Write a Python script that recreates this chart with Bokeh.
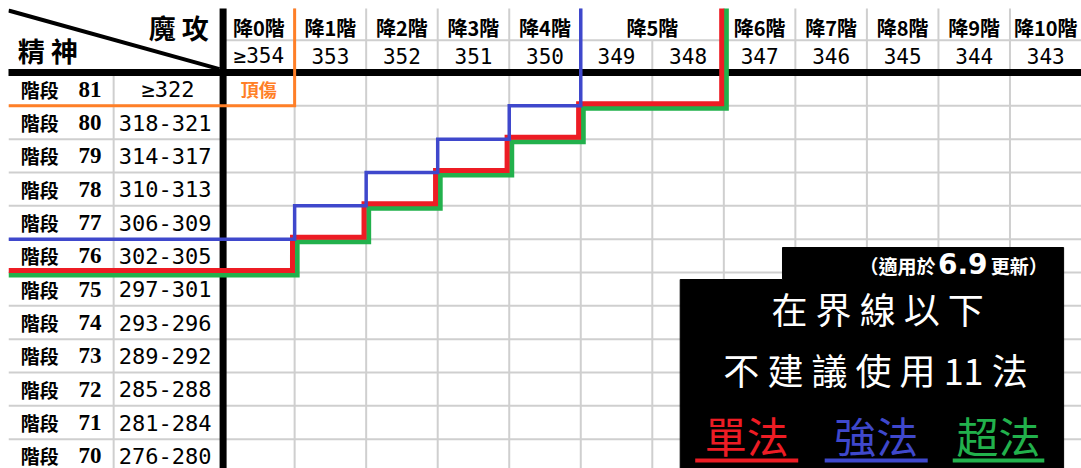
from bokeh.plotting import figure
from bokeh.models import Range1d
from bokeh.core.properties import value
from bokeh.embed import file_html
from bokeh.resources import INLINE

# ---------------- data ----------------
atk_tiers = ["降0階", "降1階", "降2階", "降3階", "降4階", "降5階",
             "降6階", "降7階", "降8階", "降9階", "降10階"]
atk_values = ["≥354", "353", "352", "351", "350", "349", "348",
              "347", "346", "345", "344", "343"]
atk_value_tier = [0, 1, 2, 3, 4, 5, 5, 6, 7, 8, 9, 10]
spirit_stages = [81, 80, 79, 78, 77, 76, 75, 74, 73, 72, 71, 70]
spirit_ranges = ["≥322", "318-321", "314-317", "310-313", "306-309", "302-305",
                 "297-301", "293-296", "289-292", "285-288", "281-284", "276-280"]
# minimum 精神 stage needed for each 魔攻 column (columns beyond the list: not reachable)
top_damage_min = [81]                       # 頂傷
single_min = [76, 77, 78, 79, 80, 81, 81]   # 單法
strong_min = [77, 78, 79, 80, 81]           # 強法
super_min = [76, 77, 78, 79, 80, 81, 81]    # 超法

ORANGE, RED, BLUE, GREEN = "#FF7F27", "#ED1C24", "#3F48CC", "#22B14C"
CJK = value("Noto Sans CJK TC")
MONO = value("DejaVu Sans Mono")

NCOL = len(atk_values)
NROW = len(spirit_stages)
X0, XSPLIT = -3.0, -1.53
TOP, HMID, BOTTOM = -1.92, -0.97, 11.88

p = figure(width=1081, height=468, x_range=Range1d(X0, NCOL), y_range=Range1d(BOTTOM, TOP),
           output_backend="svg", toolbar_location=None, x_axis_location=None,
           y_axis_location=None, min_border_left=8, min_border_top=8,
           min_border_right=0, min_border_bottom=0)
p.grid.visible = False
p.outline_line_color = None
p.background_fill_color = "white"
p.border_fill_color = "white"

GRID = "#cfcfcf"
# horizontal grid
hx0, hy0, hx1, hy1 = [], [], [], []
for r in range(1, NROW + 1):
    hx0.append(X0); hy0.append(r); hx1.append(NCOL); hy1.append(r)
hx0.append(0); hy0.append(HMID); hx1.append(NCOL); hy1.append(HMID)
p.segment(hx0, hy0, hx1, hy1, line_color=GRID, line_width=2)
# vertical grid
vx, vy0 = [], []
for i in range(1, NCOL):
    vx.append(i)
    vy0.append(HMID if atk_value_tier[i - 1] == atk_value_tier[i] else TOP - 0.2)
vx.append(XSPLIT); vy0.append(0)
p.segment(vx, vy0, vx, [BOTTOM + 1] * len(vx), line_color=GRID, line_width=2)

# thick black separators and diagonal
p.segment([X0 - 0.1], [0], [NCOL + 0.1], [0], line_color="black", line_width=7)
p.segment([0], [TOP - 0.2], [0], [BOTTOM + 1], line_color="black", line_width=7)
p.segment([X0], [-1.86], [-0.05], [-0.1], line_color="black", line_width=4)

# header corner texts
p.text([-0.62], [-1.35], text=["魔 攻"], text_font=CJK, text_font_style="bold",
       text_font_size="27px", text_align="center", text_baseline="middle", text_color="black")
p.text([-2.45], [-0.66], text=["精 神"], text_font=CJK, text_font_style="bold",
       text_font_size="27px", text_align="center", text_baseline="middle", text_color="black")

# tier headers
tx, tt = [], []
for t, name in enumerate(atk_tiers):
    cols = [i for i, v in enumerate(atk_value_tier) if v == t]
    tx.append((cols[0] + cols[-1] + 1) / 2)
    tt.append(name)
p.text(tx, [-1.34] * len(tx), text=tt, text_font=CJK, text_font_style="bold",
       text_font_size="20px", text_align="center", text_baseline="middle", text_color="black")
# value headers
p.text([i + 0.5 for i in range(NCOL)], [-0.5] * NCOL, text=atk_values, text_font=MONO,
       text_font_size="21px", text_align="center", text_baseline="middle", text_color="black")

# row labels
ys = [r + 0.5 for r in range(NROW)]
p.text([-2.83] * NROW, ys, text=["階段"] * NROW, text_font=CJK, text_font_style="bold",
       text_font_size="19px", text_align="left", text_baseline="middle", text_color="black")
p.text([-1.86] * NROW, ys, text=[str(s) for s in spirit_stages], text_font=value("Liberation Serif"),
       text_font_style="bold", text_font_size="23px", text_align="center", text_baseline="middle",
       text_color="black")
cx = [-0.77 if s.startswith("≥") else -1.46 for s in spirit_ranges]
ca = ["center" if s.startswith("≥") else "left" for s in spirit_ranges]
p.text(cx, ys, text=spirit_ranges, text_font=MONO, text_font_size="22px",
       text_align=ca, text_baseline="middle", text_color="black")


def step_path(mins, dx=0.0, dy=0.0):
    xs, yv = [], []
    for i, s in enumerate(mins):
        yb = spirit_stages.index(s) + 1
        xs.append(X0 if i == 0 else i + dx); yv.append(yb + dy)
        xs.append(i + 1 + dx); yv.append(yb + dy)
    xs.append(len(mins) + dx); yv.append(TOP - 0.3)
    return xs, yv


# 頂傷
ox, oy = step_path(top_damage_min)
p.line(ox, oy, line_color=ORANGE, line_width=3, line_join="miter")
p.text([0.5], [0.5], text=["頂傷"], text_font=CJK, text_font_style="bold", text_font_size="18px",
       text_align="center", text_baseline="middle", text_color=ORANGE)

gx, gy = step_path(super_min, 0.035, 0.075)
p.line(gx, gy, line_color=GREEN, line_width=5, line_join="miter")
rx, ry = step_path(single_min, -0.03, -0.06)
p.line(rx, ry, line_color=RED, line_width=5, line_join="miter")
bx, by = step_path(strong_min)
p.line(bx, by, line_color=BLUE, line_width=3.5, line_join="miter")

# notice box
p.patch([6.39, 6.39, 7.82, 7.82, 11.75, 11.75], [12.3, 6.21, 6.21, 5.25, 5.25, 12.3],
        fill_color="black", line_color="black")
p.text([9.96], [5.78], text=["（適用於"], text_font=CJK, text_font_style="bold", text_font_size="19px",
       text_align="right", text_baseline="middle", text_color="white")
p.text([10.34], [5.74], text=["6.9"], text_font=value("DejaVu Sans"), text_font_style="bold",
       text_font_size="28px", text_align="center", text_baseline="middle", text_color="white")
p.text([10.73], [5.78], text=["更新）"], text_font=CJK, text_font_style="bold", text_font_size="19px",
       text_align="left", text_baseline="middle", text_color="white")
p.text([9.15], [7.05], text=["在 界 線 以 下"], text_font=CJK, text_font_size="36px",
       text_align="center", text_baseline="middle", text_color="white")
p.text([9.12], [8.9], text=["不 建 議 使 用 11 法"], text_font=CJK, text_font_size="36px",
       text_align="center", text_baseline="middle", text_color="white")

legend_names = ["單法", "強法", "超法"]
legend_colors = [RED, BLUE, GREEN]
legend_x = [7.32, 9.13, 10.84]
legend_half = [0.72, 0.72, 0.64]
p.text(legend_x, [10.85] * 3, text=legend_names, text_font=CJK, text_font_size="42px",
       text_align="center", text_baseline="middle", text_color=legend_colors)
p.segment([x - h for x, h in zip(legend_x, legend_half)], [11.64] * 3,
          [x + h for x, h in zip(legend_x, legend_half)], [11.64] * 3,
          line_color=legend_colors, line_width=4)

open("out.html", "w").write(file_html(p, INLINE))
